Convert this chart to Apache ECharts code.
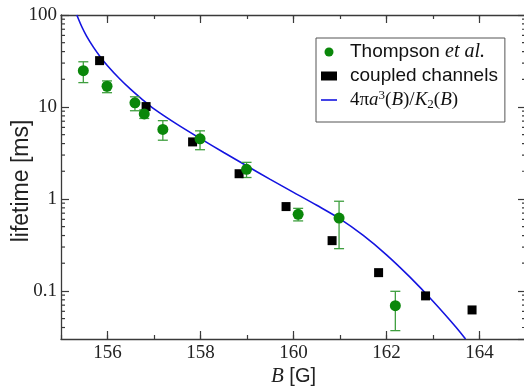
<!DOCTYPE html>
<html><head><meta charset="utf-8">
<script src="https://cdn.jsdelivr.net/npm/echarts@6/dist/echarts.min.js"></script>
<style>html,body{margin:0;padding:0;background:#fff}#c{width:524px;height:388px}</style>
</head><body><div id="c"></div>
<script>
// Thompson et al. (measured, with error bars)
const thompsonB    = [155.48, 155.99, 156.59, 156.79, 157.19, 157.99, 158.99, 160.10, 160.98, 162.19];
const thompsonVal  = [24.8, 16.8, 11.1, 8.4, 5.7, 4.5, 2.1, 0.68, 0.62, 0.069];
const thompsonLow  = [18.4, 14.3, 9.1, 7.5, 4.35, 3.43, 1.71, 0.577, 0.288, 0.037];
const thompsonHigh = [31.0, 19.2, 12.9, 9.3, 7.1, 5.5, 2.5, 0.79, 0.944, 0.099];
// coupled channels
const coupledB   = [155.83, 156.83, 157.83, 158.83, 159.84, 160.83, 161.83, 162.84, 163.84];
const coupledVal = [31.9, 10.1, 4.17, 1.88, 0.826, 0.352, 0.158, 0.0883, 0.0621];
// 4πa^3(B)/K2(B) curve
const curveB   = [155.34, 155.45, 155.55, 155.7, 155.85, 156.0, 156.25, 156.5, 156.75, 157.0, 157.5, 158.0, 158.5, 159.0, 159.5, 160.0, 160.5, 161.0, 161.5, 162.0, 162.5, 163.0, 163.5, 163.7];
const curveVal = [100, 74, 59, 44.4, 34.8, 28.1, 20.5, 15.5, 12.05, 9.53, 6.46, 4.52, 3.2, 2.28, 1.63, 1.18, 0.853, 0.607, 0.401, 0.247, 0.142, 0.0773, 0.0401, 0.030];
// axis settings
const xMin = 155, xMax = 165;
const yMin = 0.03, yMax = 100;
const yMinorTicks = [0.04,0.05,0.06,0.07,0.08,0.09, 0.2,0.3,0.4,0.5,0.6,0.7,0.8,0.9, 2,3,4,5,6,7,8,9, 20,30,40,50,60,70,80,90];
const seriesNames = ['Thompson et al.', 'coupled channels', '4πa3(B)/K2(B)'];

const axisColor = '#3a3a3a';
const serif = 'Liberation Serif';
const sans = 'Liberation Sans';
const errColor = '#3f9f3f';
const blue = '#1414e0';

const chart = echarts.init(document.getElementById('c'), null, {renderer: 'canvas'});

function xAx(pos, major) {
  const a = {
    type: 'value', min: xMin, max: xMax, position: pos, gridIndex: 0,
    axisLine: {show: major, onZero: false, lineStyle: {color: axisColor, width: 1.3}},
    axisTick: {show: true, inside: true, length: major ? 8 : 4, lineStyle: {color: axisColor, width: 1.2}},
    axisLabel: {show: false},
    splitLine: {show: false}
  };
  if (major) a.splitNumber = 5; else a.interval = 1;
  return a;
}
const xBottom = xAx('bottom', true);
xBottom.axisLabel = {show: true, showMinLabel: false, showMaxLabel: false, fontFamily: serif, fontSize: 19, color: '#222', margin: 5};
xBottom.name = '{i|B} [G]';
xBottom.nameLocation = 'middle';
xBottom.nameGap = 27;
xBottom.nameMoveOverlap = false;
xBottom.nameTextStyle = {fontFamily: sans, fontSize: 20, color: '#222',
  rich: {i: {fontFamily: serif, fontStyle: 'italic', fontSize: 21, color: '#222'}}};

function yAx(pos) {
  return {
    type: 'log', logBase: 10, min: yMin, max: yMax, position: pos,
    axisLine: {show: true, onZero: false, lineStyle: {color: axisColor, width: 1.3}},
    axisTick: {show: true, inside: true, length: 8, lineStyle: {color: axisColor, width: 1.2}},
    axisLabel: {show: false},
    splitLine: {show: false}, minorTick: {show: false}
  };
}
const yLeft = yAx('left');
yLeft.axisLabel = {show: true, showMinLabel: false, showMaxLabel: true, fontFamily: serif, fontSize: 19, color: '#222', margin: 4};
yLeft.name = 'lifetime [ms]';
yLeft.nameLocation = 'middle';
yLeft.nameGap = 28;
yLeft.nameMoveOverlap = false;
yLeft.nameTextStyle = {fontFamily: sans, fontSize: 23, color: '#222', padding: [0, 8, 0, 0]};

const option = {
  animation: false,
  backgroundColor: '#fff',
  grid: {left: 61, top: 15, width: 465, height: 324, containLabel: false, outerBoundsMode: 'none'},
  xAxis: [xBottom, xAx('bottom', false), xAx('top', true), xAx('top', false)],
  yAxis: [yLeft, yAx('right')],
  legend: {
    orient: 'vertical', left: 316, top: 38,
    data: [
      {name: seriesNames[0], icon: 'circle'},
      {name: seriesNames[1], icon: 'rect'},
      {name: seriesNames[2], icon: 'path://M0,0L16,0L16,1.6L0,1.6Z', itemStyle: {color: blue}}
    ],
    backgroundColor: '#fff', borderColor: '#555', borderWidth: 1,
    padding: [3, 7, 11, 5], itemGap: 2,
    itemWidth: 16, itemHeight: 9,
    textStyle: {fontFamily: sans, fontSize: 19, color: '#111', lineHeight: 22, padding: [0, 0, 0, 8],
      rich: {
        n: {fontFamily: sans, fontSize: 19, color: '#111', lineHeight: 22},
        it: {fontFamily: serif, fontStyle: 'italic', fontSize: 20, color: '#111', lineHeight: 22},
        s: {fontFamily: serif, fontSize: 19, color: '#111', lineHeight: 22},
        si: {fontFamily: serif, fontStyle: 'italic', fontSize: 19, color: '#111', lineHeight: 22},
        sup: {fontFamily: serif, fontSize: 13, color: '#111', lineHeight: 22, verticalAlign: 'top'},
        sub: {fontFamily: serif, fontSize: 13, color: '#111', lineHeight: 22, verticalAlign: 'bottom'}
      }},
    formatter: function (name) {
      if (name === seriesNames[0]) return '{n|Thompson }{it|et al.}';
      if (name === seriesNames[1]) return '{n|coupled channels}';
      return '{s|4π}{si|a}{sup|3}{s|(}{si|B}{s|)/}{si|K}{sub|2}{s|(}{si|B}{s|)}';
    }
  },
  series: [
    {
      name: 'minorTicks', type: 'custom', xAxisIndex: 0, yAxisIndex: 0, silent: true, clip: false,
      data: yMinorTicks.map(v => [xMin, v]), encode: {x: 0, y: 1},
      renderItem: function (params, api) {
        const cs = params.coordSys;
        const y = api.coord([xMin, api.value(1)])[1];
        const st = {stroke: axisColor, lineWidth: 1.2};
        return {type: 'group', children: [
          {type: 'line', shape: {x1: cs.x, y1: y, x2: cs.x + 4, y2: y}, style: st},
          {type: 'line', shape: {x1: cs.x + cs.width, y1: y, x2: cs.x + cs.width - 4, y2: y}, style: st}
        ]};
      }
    },
    {
      name: seriesNames[2], type: 'line', xAxisIndex: 0, yAxisIndex: 0,
      data: curveB.map((b, i) => [b, curveVal[i]]),
      symbol: 'none', showSymbol: false, smooth: 0.3, clip: true,
      lineStyle: {color: blue, width: 1.6}, itemStyle: {color: blue}, z: 2
    },
    {
      name: 'errorbars', type: 'custom', xAxisIndex: 0, yAxisIndex: 0,
      data: thompsonB.map((b, i) => [b, thompsonLow[i], thompsonHigh[i]]),
      encode: {x: 0, y: [1, 2]},
      renderItem: function (params, api) {
        const x = api.value(0);
        const lo = api.coord([x, api.value(1)]);
        const hi = api.coord([x, api.value(2)]);
        const cap = 5;
        const st = {stroke: errColor, lineWidth: 1.3};
        return {type: 'group', children: [
          {type: 'line', shape: {x1: lo[0], y1: lo[1], x2: hi[0], y2: hi[1]}, style: st},
          {type: 'line', shape: {x1: lo[0] - cap, y1: lo[1], x2: lo[0] + cap, y2: lo[1]}, style: st},
          {type: 'line', shape: {x1: hi[0] - cap, y1: hi[1], x2: hi[0] + cap, y2: hi[1]}, style: st}
        ]};
      }, z: 3
    },
    {
      name: seriesNames[1], type: 'scatter', xAxisIndex: 0, yAxisIndex: 0,
      data: coupledB.map((b, i) => [b, coupledVal[i]]),
      symbol: 'rect', symbolSize: 9, itemStyle: {color: '#000', opacity: 1}, z: 4
    },
    {
      name: seriesNames[0], type: 'scatter', xAxisIndex: 0, yAxisIndex: 0,
      data: thompsonB.map((b, i) => [b, thompsonVal[i]]),
      symbol: 'circle', symbolSize: 11, itemStyle: {color: '#0a870a', opacity: 1}, z: 5
    }
  ]
};
chart.setOption(option);
</script>
</body></html>
